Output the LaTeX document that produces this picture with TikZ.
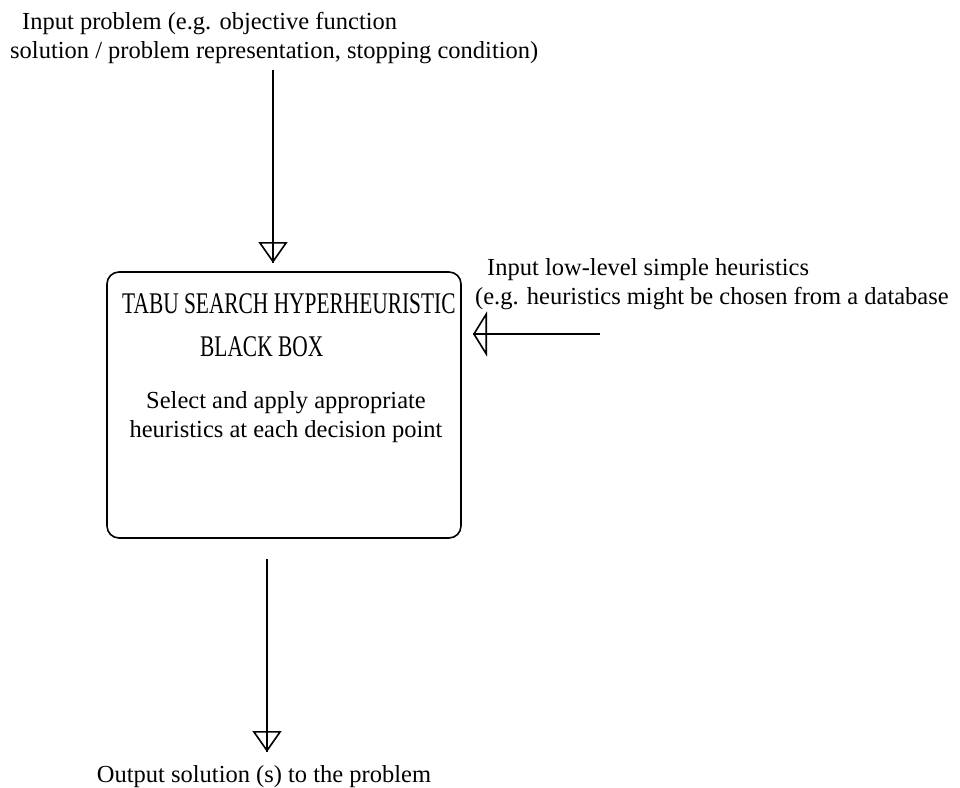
\documentclass[tikz,border=0pt]{standalone}
\usepackage{fontspec}
\setmainfont{Liberation Serif}
\usepackage{graphicx}
\usetikzlibrary{arrows.meta, positioning}
\tikzset{
    x=1pt, y=-1pt, % pixel-like units, y going down
    every node/.style={ % Sets the font of all labels
        font=\fontsize{24.5}{29.5}\selectfont,
        inner sep=0pt
    },
    line/.style={ % Thin black connector lines
        draw,
        line width=1.6pt
    },
}
\newcommand{\condensed}[1]{\scalebox{0.713}[1]{#1}}

\begin{document}
\begin{tikzpicture}
            \tikzset{
                tri/.style={line,-{Triangle[open,length=21pt,width=29pt,line width=1.6pt]},postaction={draw,-}},
                trislim/.style={line,-{Triangle[open,length=14pt,width=45pt,line width=1.6pt]},postaction={draw,-}}
            }
            \useasboundingbox (0,0) rectangle (960,787);
            \node[line, rounded corners=12pt, minimum width=354pt, minimum height=266pt] (box) at (284,405) {};
            \node[align=left, anchor=north west]     (inprob)  at (10,12)
                    {\hspace*{12pt}Input problem (e.g. objective function\\
                     solution / problem representation, stopping condition)};
            \node[align=left, anchor=north west]     (inheur)  at (475,258)
                    {\hspace*{12pt}Input low-level simple heuristics\\
                     (e.g. heuristics might be chosen from a database};
            \node[anchor=base]                       (outsol)  at (264,782)
                    {Output solution (s) to the problem};
            \node[anchor=base west, font=\fontsize{30}{34}\selectfont] (title) at (122,313)
                    {\condensed{TABU SEARCH HYPERHEURISTIC}};
            \node[anchor=base west, font=\fontsize{30}{34}\selectfont] (blackbox) at (200,356)
                    {\condensed{BLACK BOX}};
            \node[align=center, anchor=north]        (select)  at (286,391)
                    {Select and apply appropriate\\heuristics at each decision point};
            \coordinate (probtop)  at (273,70);
            \coordinate (probtip)  at (273,263);
            \coordinate (heurend)  at (600,334);
            \coordinate (heurtip)  at (473,334);
            \coordinate (outtop)   at (267,559);
            \coordinate (outtip)   at (267,752);
            \draw[tri]      (probtop) -- (probtip);
            \draw[trislim]  (heurend) -- (heurtip);
            \draw[tri]      (outtop)  -- (outtip);
        \end{tikzpicture}
\end{document}
